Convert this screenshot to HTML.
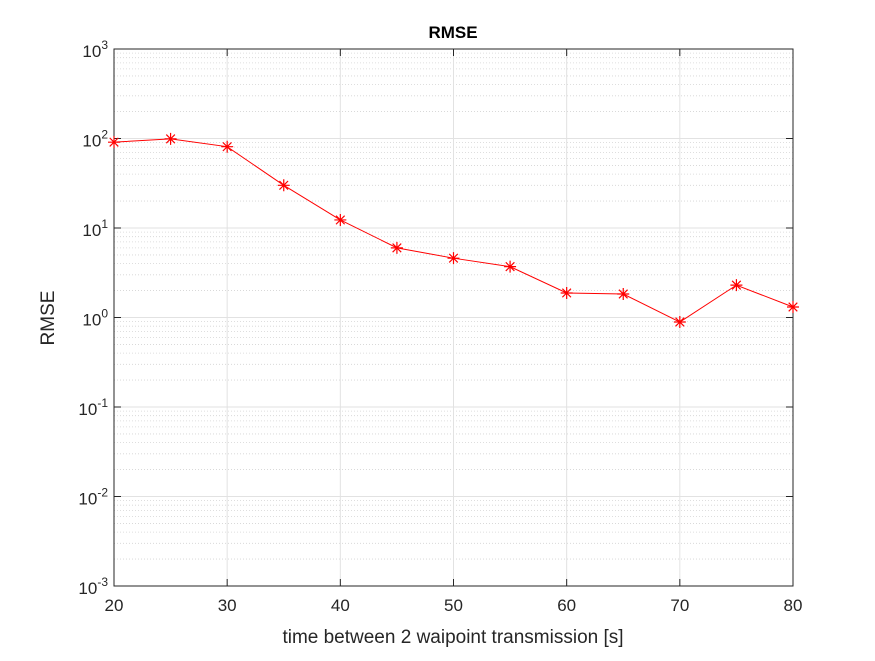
<!DOCTYPE html>
<html><head><meta charset="utf-8"><style>
body{margin:0;background:#fff;}
svg{font-family:"Liberation Sans",Arial,sans-serif;}
</style></head><body>
<svg id="chart" width="875" height="656" xmlns="http://www.w3.org/2000/svg">
<rect x="0" y="0" width="875" height="656" fill="#fff"/>
<g id="grid"></g><g id="axes"></g><g id="series"></g>
<text x="453" y="38" text-anchor="middle" font-size="17" font-weight="bold" fill="#000">RMSE</text>
<text x="453" y="643" text-anchor="middle" font-size="19" fill="#262626">time between 2 waipoint transmission [s]</text>
<text transform="translate(54,318) rotate(-90)" text-anchor="middle" font-size="19" fill="#262626">RMSE</text>
</svg>
<script>
const xValues=[20,25,30,35,40,45,50,55,60,65,70,75,80];
const rmseValues=[91,99,81,30,12.3,6.0,4.6,3.7,1.88,1.83,0.89,2.3,1.31];
const xTicks=[20,30,40,50,60,70,80];
const yTickExps=[-3,-2,-1,0,1,2,3];
const L=114,R=793,T=49,B=586;
const NS="http://www.w3.org/2000/svg";
const xs=v=>L+(v-20)/(80-20)*(R-L);
const ys=v=>B-(Math.log10(v)+3)/6*(B-T);
function mk(p,tag,a){const e=document.createElementNS(NS,tag);for(const k in a)e.setAttribute(k,a[k]);p.appendChild(e);return e;}
const g=document.getElementById('grid'),ax=document.getElementById('axes'),s=document.getElementById('series');
for(let e=-3;e<3;e++)for(let m=2;m<=9;m++){const y=ys(m*Math.pow(10,e));
 const l=mk(g,'line',{x1:L,x2:R,y1:y,y2:y,stroke:'#d4d4d4','stroke-width':0.8,'stroke-dasharray':'1,2'});
 
 }
yTickExps.forEach(e=>{const y=ys(Math.pow(10,e));
 const l=mk(g,'line',{x1:L,x2:R,y1:y,y2:y,stroke:'#e2e2e2','stroke-width':1});
 
 
 mk(ax,'line',{x1:L,x2:L+7,y1:y,y2:y,stroke:'#262626'});
 mk(ax,'line',{x1:R,x2:R-7,y1:y,y2:y,stroke:'#262626'});
 const t=mk(ax,'text',{x:L-6,y:y+8,'text-anchor':'end','font-size':17,fill:'#262626'});
 t.innerHTML='10<tspan dy="-8" font-size="12">'+e+'</tspan>';
 
 });
xTicks.forEach(v=>{const x=xs(v);
 const l=mk(g,'line',{x1:x,x2:x,y1:T,y2:B,stroke:'#e2e2e2','stroke-width':1});
 
 
 mk(ax,'line',{x1:x,x2:x,y1:B,y2:B-7,stroke:'#262626'});
 mk(ax,'line',{x1:x,x2:x,y1:T,y2:T+7,stroke:'#262626'});
 const t=mk(ax,'text',{x:x,y:B+25,'text-anchor':'middle','font-size':17,fill:'#262626'});
 t.textContent=v;
 
 });
const box=mk(ax,'rect',{x:L,y:T,width:R-L,height:B-T,fill:'none',stroke:'#262626','stroke-width':1});


const pts=xValues.map((x,i)=>xs(x)+','+ys(rmseValues[i])).join(' ');
const pl=mk(s,'polyline',{points:pts,fill:'none',stroke:'#ff0000','stroke-width':1});


xValues.forEach((x,i)=>{const cx=xs(x),cy=ys(rmseValues[i]),r=6,d=4.3;
 const m=mk(s,'path',{d:`M${cx-r},${cy}H${cx+r}M${cx},${cy-r}V${cy+r}M${cx-d},${cy-d}L${cx+d},${cy+d}M${cx-d},${cy+d}L${cx+d},${cy-d}`,stroke:'#ff0000','stroke-width':1.2,fill:'none'});
 
 });
</script>
</body></html>
